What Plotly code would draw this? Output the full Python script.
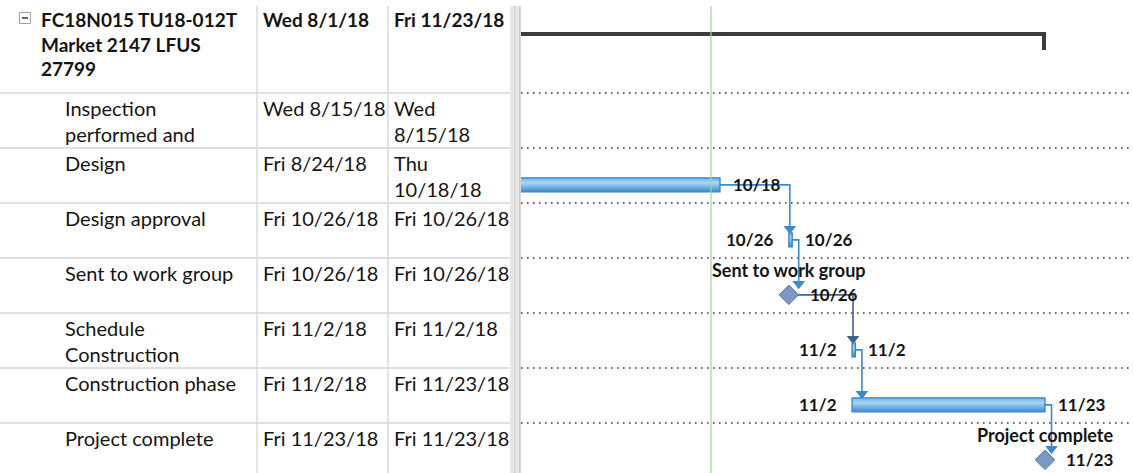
import pandas as pd
import plotly.graph_objects as go

# ---------------- data ----------------
task_names = [
    "FC18N015 TU18-012T Market 2147 LFUS 27799",
    "Inspection performed and",
    "Design",
    "Design approval",
    "Sent to work group",
    "Schedule Construction",
    "Construction phase",
    "Project complete",
]
# text as displayed (wrapped) in the table cells
name_cells = [
    "FC18N015 TU18-012T<br>Market 2147 LFUS<br>27799",
    "Inspection<br>performed and",
    "Design",
    "Design approval",
    "Sent to work group",
    "Schedule<br>Construction",
    "Construction phase",
    "Project complete",
]
start_cells = ["Wed 8/1/18", "Wed 8/15/18", "Fri 8/24/18", "Fri 10/26/18",
               "Fri 10/26/18", "Fri 11/2/18", "Fri 11/2/18", "Fri 11/23/18"]
finish_cells = ["Fri 11/23/18", "Wed<br>8/15/18", "Thu<br>10/18/18", "Fri 10/26/18",
                "Fri 10/26/18", "Fri 11/2/18", "Fri 11/23/18", "Fri 11/23/18"]

task_start = ["2018-08-01 08:00", "2018-08-15 08:00", "2018-08-24 08:00", "2018-10-26 08:00",
              "2018-10-26 08:00", "2018-11-02 08:00", "2018-11-02 08:00", "2018-11-23 17:00"]
task_finish = ["2018-11-23 17:00", "2018-08-15 17:00", "2018-10-18 17:00", "2018-10-26 17:00",
               "2018-10-26 08:00", "2018-11-02 17:00", "2018-11-23 17:00", "2018-11-23 17:00"]
task_kind = ["summary", "task", "task", "task", "milestone", "task", "task", "milestone"]

links = [(2, 3), (3, 4), (4, 5), (5, 6), (6, 7)]
link_colors = ["#3a8ad0", "#3a8ad0", "#41608a", "#3a8ad0", "#3a8ad0"]

status_date = "2018-10-17 17:00"

# ---------------- layout helpers ----------------
W, H = 1133, 473
GX0 = 521                      # left pixel of gantt pane
ROW_H = 55                     # pixel height of a task row
PXD = 325 / 36                 # pixels per day of the timescale
ANCHOR_T = pd.Timestamp("2018-10-18 17:00")
ANCHOR_PX = 720
X_LO = ANCHOR_T - pd.Timedelta(days=(ANCHOR_PX - GX0) / PXD)
X_HI = ANCHOR_T + pd.Timedelta(days=(W - ANCHOR_PX) / PXD)


def ypix(p):
    return 0.5 + (p - 93) / ROW_H


def dy(px):
    return px / ROW_H


def dx(px):
    return pd.Timedelta(days=px / PXD)


def fmt(ts):
    return ts.strftime("%Y-%m-%d %H:%M:%S")


def md(ts):
    return f"{ts.month}/{ts.day}"


starts = [pd.Timestamp(s) for s in task_start]
finishes = [pd.Timestamp(s) for s in task_finish]
BAR_OFF = 0.17
bar_y = [i + BAR_OFF for i in range(len(task_names))]
HALF = dy(7)

FONT = "Lato"
TXT = "#141414"

fig = go.Figure()
shapes = []
ann = []

# ---------------- table pane ----------------
for b in range(1, 8):
    shapes.append(dict(type="line", xref="paper", yref="y", x0=0, x1=510 / W,
                       y0=b - 0.5, y1=b - 0.5, line=dict(color="#d6d6d6", width=1.5),
                       layer="below"))
for cx in (257, 388):
    shapes.append(dict(type="line", xref="paper", yref="paper", x0=cx / W, x1=cx / W,
                       y0=0, y1=1 - 6 / H, line=dict(color="#dadada", width=1.5), layer="below"))
# splitter
shapes.append(dict(type="rect", xref="paper", yref="paper", x0=510 / W, x1=520 / W,
                   y0=0, y1=1 - 6 / H, fillcolor="#e6e6e6", line=dict(width=0), layer="below"))
shapes.append(dict(type="line", xref="paper", yref="paper", x0=514.5 / W, x1=514.5 / W,
                   y0=0, y1=1 - 6 / H, line=dict(color="#d2d2d2", width=1), layer="below"))
shapes.append(dict(type="line", xref="paper", yref="paper", x0=520 / W, x1=520 / W,
                   y0=0, y1=1 - 6 / H, line=dict(color="#bdbdbd", width=1.2), layer="below"))
# collapse box
shapes.append(dict(type="rect", xref="paper", yref="paper", x0=19.5 / W, x1=30.5 / W,
                   y0=1 - 23.5 / H, y1=1 - 12.5 / H, fillcolor="white",
                   line=dict(color="#a0a0a0", width=1)))
shapes.append(dict(type="line", xref="paper", yref="paper", x0=22 / W, x1=28 / W,
                   y0=1 - 18 / H, y1=1 - 18 / H, line=dict(color="#333333", width=1.5)))

for i in range(len(task_names)):
    bold = task_kind[i] == "summary"
    top = ypix(6) if bold else i - 0.5 + dy(0.5)
    name_x = 39 if bold else 63
    for txt, px in ((name_cells[i], name_x), (start_cells[i], 261), (finish_cells[i], 392)):
        ann.append(dict(xref="paper", yref="y", x=px / W, y=top, xanchor="left",
                        yanchor="top", align="left", showarrow=False,
                        text=f"<b>{txt}</b>" if bold else txt,
                        font=dict(family=FONT, size=19 if bold else 20, color=TXT)))

# ---------------- gantt pane ----------------
for b in range(1, 8):
    shapes.append(dict(type="line", xref="paper", yref="y", x0=GX0 / W, x1=1,
                       y0=b - 0.5, y1=b - 0.5,
                       line=dict(color="#3a3a3a", width=1.6, dash="1.6px,4.4px"),
                       layer="below"))
shapes.append(dict(type="line", xref="x", yref="paper", x0=status_date, x1=status_date,
                   y0=0, y1=1 - 6 / H, line=dict(color="#a3d39c", width=1.2)))


def in_range(t):
    return X_LO <= t <= X_HI


# link lines
for (p, s), col in zip(links, link_colors):
    pf = finishes[p]
    ss = starts[s]
    turn = max(ss + dx(1), pf + dx(6.5))
    tgt_top = bar_y[s] - (dy(7) if task_kind[s] == "milestone" else HALF)
    fig.add_trace(go.Scatter(
        x=[pf, turn, turn], y=[bar_y[p], bar_y[p], tgt_top - dy(6)],
        mode="lines", line=dict(color=col, width=1.6), hoverinfo="skip"))
    fig.add_trace(go.Scatter(
        x=[turn], y=[tgt_top - dy(4)], mode="markers",
        marker=dict(symbol="triangle-down", size=11, color=col, line=dict(width=0)),
        hoverinfo="skip"))

# summary bar
for i, k in enumerate(task_kind):
    if k != "summary":
        continue
    yb = ypix(34)
    fig.add_trace(go.Scatter(
        x=[starts[i], finishes[i] - dx(1), finishes[i] - dx(1)],
        y=[yb, yb, yb + dy(16)], mode="lines",
        line=dict(color="#3c3c3c", width=4), hoverinfo="skip"))

# task bars
for i, k in enumerate(task_kind):
    if k != "task":
        continue
    x0, x1 = starts[i], finishes[i]
    y0, y1 = bar_y[i] - HALF, bar_y[i] + HALF
    fig.add_trace(go.Scatter(
        x=[x0, x1, x1, x0, x0], y=[y0, y0, y1, y1, y0], mode="lines",
        fill="toself",
        fillgradient=dict(type="vertical",
                          colorscale=[[0, "#6fb3e5"], [0.35, "#a9d7f5"], [1, "#3a8bd0"]],
                          start=y0, stop=y1),
        line=dict(color="#3584c8", width=1.3), hoverinfo="skip"))
    if in_range(x0):
        ann.append(dict(xref="x", yref="y", x=fmt(x0), y=bar_y[i], xanchor="right",
                        xshift=-13, showarrow=False, text=f"<b>{md(x0)}</b>",
                        font=dict(family=FONT, size=17, color=TXT)))
    if in_range(x1):
        ann.append(dict(xref="x", yref="y", x=fmt(x1), y=bar_y[i], xanchor="left",
                        xshift=11, showarrow=False, text=f"<b>{md(x1)}</b>",
                        font=dict(family=FONT, size=17, color=TXT)))

# milestones
for i, k in enumerate(task_kind):
    if k != "milestone":
        continue
    t = finishes[i]
    fig.add_trace(go.Scatter(
        x=[t], y=[bar_y[i]], mode="markers",
        marker=dict(symbol="diamond", size=15, color="#7b98c4",
                    line=dict(color="#5574a4", width=1)),
        hoverinfo="skip"))
    ann.append(dict(xref="x", yref="y", x=fmt(t), y=bar_y[i], xanchor="left",
                    xshift=19, showarrow=False, text=f"<b>{md(t)}</b>",
                    font=dict(family=FONT, size=17, color=TXT)))
    ann.append(dict(xref="x", yref="y", x=fmt(t), y=bar_y[i], xanchor="center",
                    yshift=25, showarrow=False, text=f"<b>{task_names[i]}</b>",
                    font=dict(family=FONT, size=18, color=TXT)))

fig.update_layout(
    width=W, height=H, margin=dict(l=0, r=0, t=0, b=0),
    paper_bgcolor="white", plot_bgcolor="rgba(0,0,0,0)", showlegend=False,
    xaxis=dict(type="date", range=[fmt(X_LO), fmt(X_HI)], domain=[GX0 / W, 1],
               visible=False, fixedrange=True),
    yaxis=dict(range=[ypix(H), ypix(0)], domain=[0, 1], visible=False, fixedrange=True),
    shapes=shapes, annotations=ann,
)

fig.write_html("out.html", config={"displayModeBar": False},
               post_script="document.body.style.margin='0';document.body.style.overflow='hidden';")
